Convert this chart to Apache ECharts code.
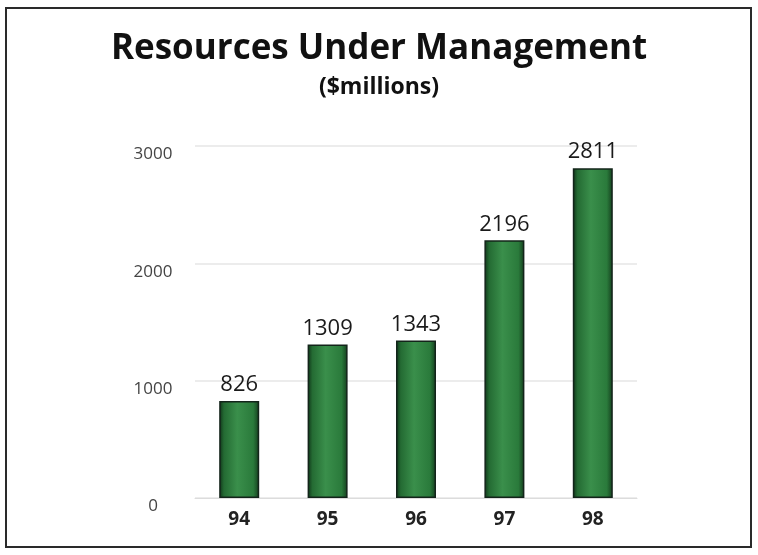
<!DOCTYPE html>
<html>
<head>
<meta charset="utf-8">
<script src="https://cdn.jsdelivr.net/npm/echarts@6/dist/echarts.min.js"></script>
<style>
  html, body { margin: 0; padding: 0; background: #fff; }
  #chart { width: 758px; height: 555px; }
</style>
</head>
<body>
<div id="chart"></div>
<script>
// Fiscal years and resources under management ($ millions)
const years = ['94', '95', '96', '97', '98'];
const resources = [826, 1309, 1343, 2196, 2811];
const yTicks = [0, 1000, 2000, 3000];

const chart = echarts.init(document.getElementById('chart'), null, { renderer: 'canvas' });

const barFill = new echarts.graphic.LinearGradient(0, 0, 1, 0, [
  { offset: 0, color: '#0f3318' },
  { offset: 0.12, color: '#246b33' },
  { offset: 0.45, color: '#3a8f4b' },
  { offset: 0.85, color: '#2a7a3b' },
  { offset: 1, color: '#143d1d' }
]);

chart.setOption({
  backgroundColor: '#ffffff',
  animation: false,
  title: [
    {
      text: 'Resources Under Management',
      left: 'center',
      top: 27,
      textStyle: { fontFamily: 'Open Sans', fontWeight: 'bold', fontSize: 35, color: '#111' }
    },
    {
      text: '($millions)',
      left: 'center',
      top: 71,
      textStyle: { fontFamily: 'Open Sans', fontWeight: 'bold', fontSize: 23, color: '#111' }
    }
  ],
  graphic: [{
    type: 'rect',
    shape: { x: 6, y: 8, width: 745, height: 539 },
    style: { fill: 'none', stroke: '#2a2a2a', lineWidth: 2 },
    silent: true
  }],
  grid: { left: 195, right: 121, top: 146, bottom: 57 },
  xAxis: {
    type: 'category',
    data: years,
    axisLine: { show: true, lineStyle: { color: '#dcdcdc', width: 1 } },
    axisTick: { show: false },
    axisLabel: { margin: 12, fontFamily: 'Open Sans', fontWeight: 'bold', fontSize: 19, color: '#222' }
  },
  yAxis: {
    type: 'value',
    min: yTicks[0],
    max: yTicks[yTicks.length - 1],
    interval: 1000,
    axisLine: { show: false },
    axisTick: { show: false },
    splitLine: { lineStyle: { color: '#e6e6e6', width: 1.5 } },
    axisLabel: {
      margin: 42,
      align: 'center',
      verticalAlign: 'top',
      formatter: (v) => String(v),
      fontFamily: 'Open Sans',
      fontSize: 17,
      color: '#444'
    }
  },
  series: [{
    type: 'bar',
    data: resources,
    barWidth: 40,
    itemStyle: { color: barFill, borderColor: '#13241a', borderWidth: 1.5 },
    label: {
      show: true,
      position: 'top',
      distance: 5,
      fontFamily: 'Open Sans',
      fontSize: 22,
      color: '#1a1a1a'
    }
  }]
});
</script>
</body>
</html>
